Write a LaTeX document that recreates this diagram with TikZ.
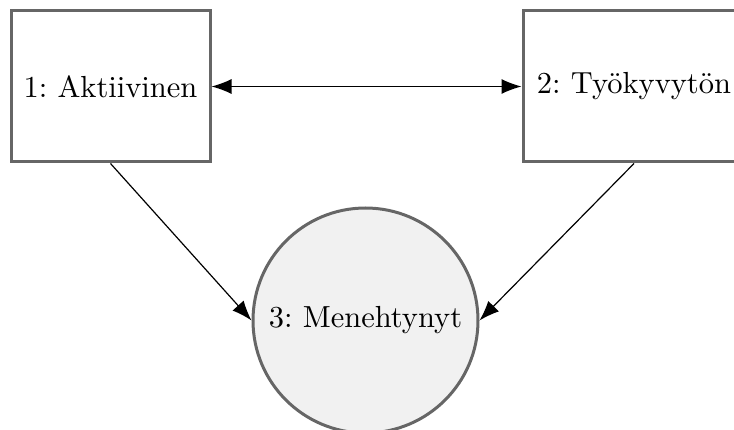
\documentclass[tikz,border=0pt]{standalone}
\usetikzlibrary{arrows.meta}
\definecolor{bordergray}{RGB}{102,102,102}
\definecolor{fillgray}{RGB}{241,241,241}
\frenchspacing
\newcommand{\bigtxt}[1]{\scalebox{3.05}{\fontsize{10}{12}\selectfont #1}}
\begin{document}
\begin{tikzpicture}[x=1pt,y=-1pt,
  statebox/.style={draw=bordergray,line width=3pt,fill=white,rectangle,minimum height=151pt,inner sep=0pt,anchor=center},
  endstate/.style={draw=bordergray,line width=3pt,fill=fillgray,circle,minimum size=225pt,inner sep=0pt},
  conn/.style={line width=1.2pt,black,-{Latex[length=20pt,width=15pt]}},
  bconn/.style={line width=1.2pt,black,{Latex[length=20pt,width=15pt]}-{Latex[length=20pt,width=15pt]}}]
\useasboundingbox (0,0) rectangle (734,430);
\node[statebox,minimum width=199pt] (a) at (110.5,86.5) {\bigtxt{1: Aktiivinen}};
\node[statebox,minimum width=222pt] (b) at (634,86.5) {\bigtxt{2: Työkyvytön}};
\node[endstate] (c) at (365.5,320.5) {\bigtxt{3: Menehtynyt}};
\draw[bconn] (a.east) -- (b.west);
\draw[conn] (a.south) -- (c.west);
\draw[conn] (b.south) -- (c.east);
\end{tikzpicture}
\end{document}
